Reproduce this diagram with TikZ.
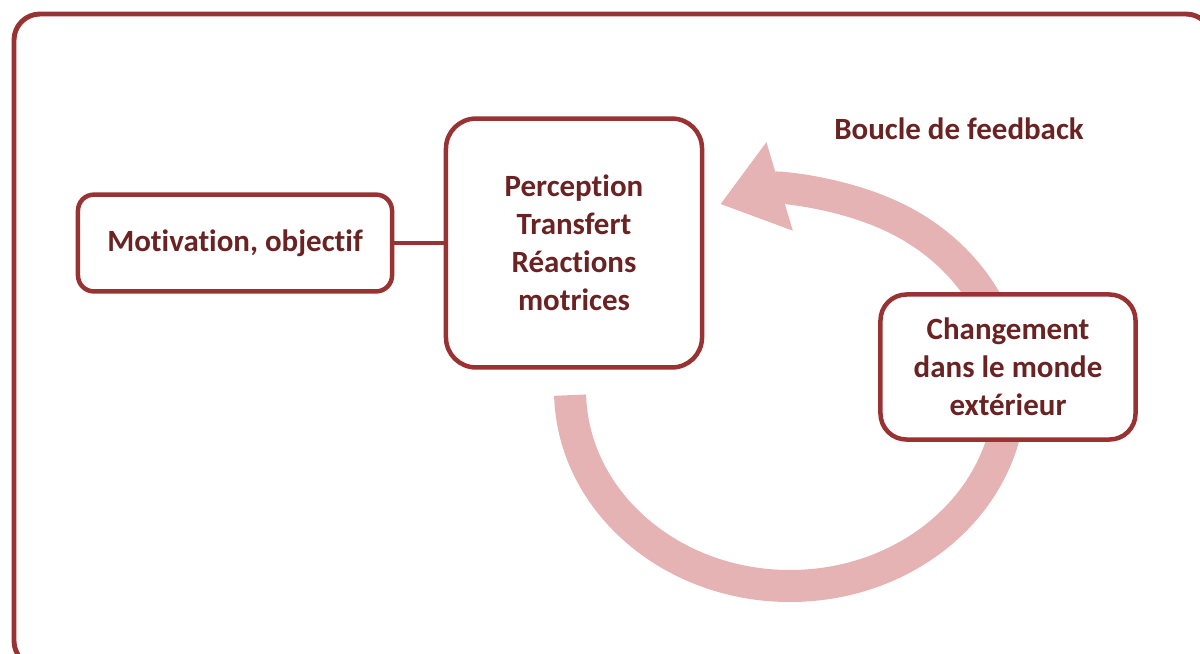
\documentclass[tikz,border=0pt]{standalone}
\usepackage{fontspec}
\setmainfont{Carlito}[Ligatures=NoCommon]
\definecolor{frame1}{RGB}{153, 51, 51}
\definecolor{pink1}{RGB}{229, 179, 179}
\definecolor{text1}{RGB}{107, 34, 34}
\usetikzlibrary{arrows.meta}

\tikzset{
  box/.style={draw=frame1, line width=3.2pt, fill=white, text=text1, align=center,
    font=\fontsize{22}{27}\selectfont\bfseries, inner sep=0pt},
  link/.style={draw=frame1, line width=3.2pt},
}

\begin{document}
\begin{tikzpicture}[x=0.025cm, y=-0.025cm]
  \useasboundingbox (0,0) rectangle (1200,653);
  \draw[frame1, line width=3.5pt, rounded corners=0.65cm] (14,14) rectangle (1212,667);

  % feedback loop
  \coordinate (loopc) at (790,390);
  \draw[pink1, line width=0.8cm, -{Triangle[length=1.55cm, width=2.2cm]}]
    (loopc) ++(178.5:220 and 196) arc[start angle=178.5, end angle=-108.5, x radius=220, y radius=196];

  \node[box, minimum width=7.85cm, minimum height=2.42cm, rounded corners=0.4cm] (motiv) at (235,243) {Motivation, objectif};
  \node[box, minimum width=6.4cm, minimum height=6.22cm, rounded corners=0.75cm] (percep) at (574,243) {Perception\\Transfert\\Réactions\\motrices};
  \node[box, minimum width=6.375cm, minimum height=3.625cm, rounded corners=0.65cm] (change) at (1008,367) {Changement\\dans le monde\\extérieur};
  \draw[link] (motiv) -- (percep);

  \node[text=text1, font=\fontsize{22}{27}\selectfont\bfseries] (looplabel) at (959,129) {Boucle de feedback};
\end{tikzpicture}
\end{document}
